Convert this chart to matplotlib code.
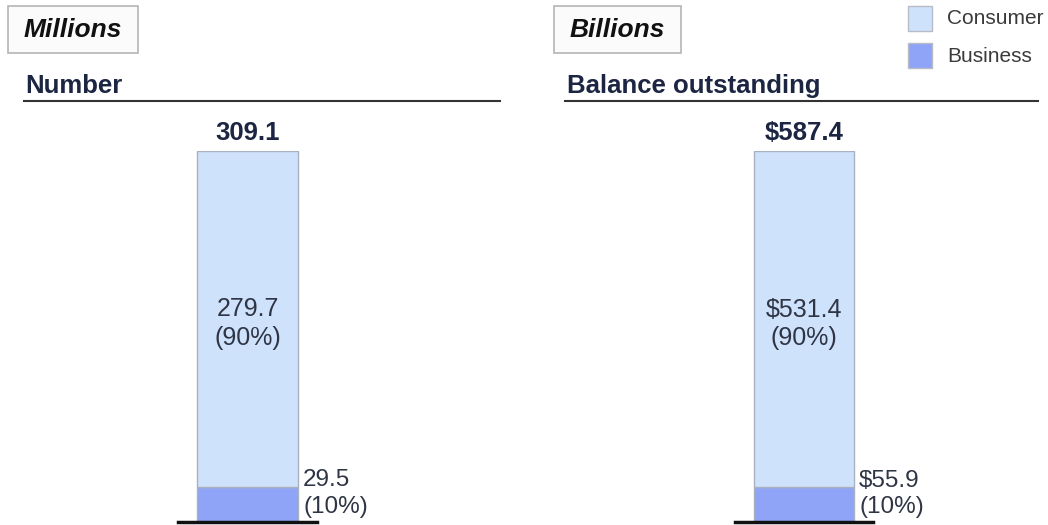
import matplotlib.pyplot as plt
from matplotlib.patches import Rectangle

plt.rcParams['font.family'] = ['Liberation Sans', 'DejaVu Sans']

# -------------------------------
# Data
# -------------------------------
panels = ["Number", "Balance outstanding"]
units = ["Millions", "Billions"]
consumer = [279.7, 531.4]
business = [29.5, 55.9]
totals = [309.1, 587.4]
consumer_pct = ["90%", "90%"]
business_pct = ["10%", "10%"]
prefix = ["", "$"]

consumer_color = "#cfe2fb"
business_color = "#8fa4f6"
edge_color = "#a9b1c0"
navy = "#1c2541"
label_color = "#2f3545"

W, H = 1048, 525
fig = plt.figure(figsize=(W / 100, H / 100), dpi=100)


def fx(px):
    return px / W


def fy(py):
    return 1 - py / H


# axes pixel extents (left, right) for each panel; baseline at y=522, bar top at y=151
ax_x = [(178, 317), (735, 873)]
box_x = [(8, 138), (554, 681)]
title_x = [25, 567]
rule_x = [(24, 500), (565, 1038)]

for i in range(2):
    x0, x1 = ax_x[i]
    ax = fig.add_axes([fx(x0), fy(522), fx(x1 - x0), (522 - 151) / H])
    ax.bar(0, business[i], width=0.72, color=business_color, edgecolor=edge_color, linewidth=1)
    ax.bar(0, consumer[i], bottom=business[i], width=0.72, color=consumer_color,
           edgecolor=edge_color, linewidth=1)
    ax.set_xlim(-0.5, 0.5)
    ax.set_ylim(0, totals[i])
    for s in ["left", "right", "top"]:
        ax.spines[s].set_visible(False)
    ax.spines["bottom"].set_linewidth(2.5)
    ax.spines["bottom"].set_color("#111111")
    ax.set_xticks([])
    ax.set_yticks([])

    # total on top
    ax.annotate(f"{prefix[i]}{totals[i]}", (0, totals[i]), xytext=(0, 13),
                textcoords="offset points", ha="center", va="center",
                fontsize=18.5, fontweight="bold", color=navy, annotation_clip=False)
    # consumer label inside
    ax.text(0, business[i] + consumer[i] * 0.485,
            f"{prefix[i]}{consumer[i]}\n({consumer_pct[i]})",
            ha="center", va="center", fontsize=18, color=label_color, linespacing=1.25)
    # business label outside
    ax.annotate(f"{prefix[i]}{business[i]}\n({business_pct[i]})", (0.36, business[i]),
                xytext=(4, -5), textcoords="offset points", ha="left", va="center",
                fontsize=17.5, color=label_color, linespacing=1.25, annotation_clip=False)

    # unit box
    bx0, bx1 = box_x[i]
    fig.patches.append(Rectangle((fx(bx0), fy(53)), fx(bx1 - bx0), (53 - 6) / H,
                                 transform=fig.transFigure, facecolor="#fbfbfb",
                                 edgecolor="#b5b5b5", linewidth=1.2))
    fig.text(fx((bx0 + bx1) / 2), fy(30), units[i], ha="center", va="center",
             fontsize=19, fontweight="bold", fontstyle="italic", color="#111111")

    # panel title and rule
    fig.text(fx(title_x[i]), fy(93), panels[i], ha="left", va="baseline",
             fontsize=18.5, fontweight="bold", color=navy)
    r0, r1 = rule_x[i]
    fig.add_artist(plt.Line2D([fx(r0), fx(r1)], [fy(101), fy(101)], color="#333333",
                              linewidth=1.5))

# legend
for label, color, yc in [("Consumer", consumer_color, 19), ("Business", business_color, 56)]:
    fig.patches.append(Rectangle((fx(908), fy(yc + 12)), fx(24), 25 / H,
                                 transform=fig.transFigure, facecolor=color,
                                 edgecolor="#b8bcc8", linewidth=1))
    fig.text(fx(947), fy(yc), label, ha="left", va="center", fontsize=15, color="#3a3a3a")

fig.savefig("out.png", dpi=100)
